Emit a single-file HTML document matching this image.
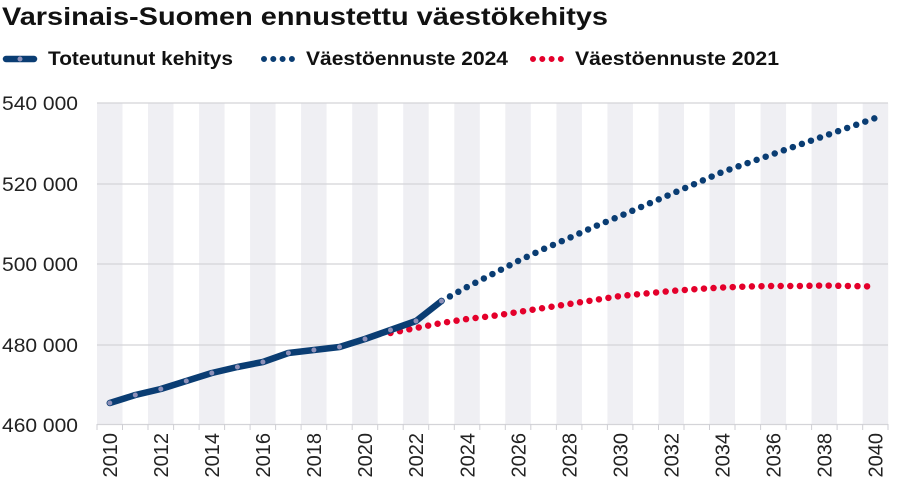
<!DOCTYPE html>
<html><head><meta charset="utf-8"><style>
body{margin:0;background:#fff;}
svg{display:block;font-family:"Liberation Sans",sans-serif;}
</style></head><body>
<svg width="900" height="487" viewBox="0 0 900 487" xmlns="http://www.w3.org/2000/svg">
<g fill="#efeff3">
<rect x="97" y="103" width="25.5" height="321"/>
<rect x="148" y="103" width="25.5" height="321"/>
<rect x="199.1" y="103" width="25.5" height="321"/>
<rect x="250.1" y="103" width="25.5" height="321"/>
<rect x="301.1" y="103" width="25.5" height="321"/>
<rect x="352.2" y="103" width="25.5" height="321"/>
<rect x="403.2" y="103" width="25.5" height="321"/>
<rect x="454.3" y="103" width="25.5" height="321"/>
<rect x="505.3" y="103" width="25.5" height="321"/>
<rect x="556.4" y="103" width="25.5" height="321"/>
<rect x="607.4" y="103" width="25.5" height="321"/>
<rect x="658.5" y="103" width="25.5" height="321"/>
<rect x="709.5" y="103" width="25.5" height="321"/>
<rect x="760.6" y="103" width="25.5" height="321"/>
<rect x="811.6" y="103" width="25.5" height="321"/>
<rect x="862.7" y="103" width="25.5" height="321"/>
</g>
<g stroke="#d4d4d8" stroke-width="1.2">
<line x1="97" y1="103" x2="888" y2="103"/>
<line x1="97" y1="184" x2="888" y2="184"/>
<line x1="97" y1="264" x2="888" y2="264"/>
<line x1="97" y1="345" x2="888" y2="345"/>
<line x1="97" y1="424.5" x2="888" y2="424.5"/>
</g>
<g stroke="#cfcfd4" stroke-width="1">
<path d="M97 424v6M122.5 424v6M148 424v6M173.6 424v6M199.1 424v6M224.6 424v6M250.1 424v6M275.6 424v6M301.1 424v6M326.7 424v6M352.2 424v6M377.7 424v6M403.2 424v6M428.7 424v6M454.3 424v6M479.8 424v6M505.3 424v6M530.8 424v6M556.4 424v6M581.9 424v6M607.4 424v6M632.9 424v6M658.5 424v6M684 424v6M709.5 424v6M735 424v6M760.6 424v6M786.1 424v6M811.6 424v6M837.1 424v6M862.7 424v6M888 424v6"/>
</g>
<g font-size="19" fill="#222">
<text x="2" y="110" textLength="76" lengthAdjust="spacingAndGlyphs">540 000</text>
<text x="2" y="191" textLength="76" lengthAdjust="spacingAndGlyphs">520 000</text>
<text x="2" y="271" textLength="76" lengthAdjust="spacingAndGlyphs">500 000</text>
<text x="2" y="352" textLength="76" lengthAdjust="spacingAndGlyphs">480 000</text>
<text x="2" y="432" textLength="76" lengthAdjust="spacingAndGlyphs">460 000</text>
</g>
<g font-size="20" fill="#222" text-anchor="end">
<text transform="translate(117,433) rotate(-90)">2010</text>
<text transform="translate(168,433) rotate(-90)">2012</text>
<text transform="translate(219,433) rotate(-90)">2014</text>
<text transform="translate(270.1,433) rotate(-90)">2016</text>
<text transform="translate(321.1,433) rotate(-90)">2018</text>
<text transform="translate(372.2,433) rotate(-90)">2020</text>
<text transform="translate(423.2,433) rotate(-90)">2022</text>
<text transform="translate(474.3,433) rotate(-90)">2024</text>
<text transform="translate(525.3,433) rotate(-90)">2026</text>
<text transform="translate(576.3,433) rotate(-90)">2028</text>
<text transform="translate(627.4,433) rotate(-90)">2030</text>
<text transform="translate(678.4,433) rotate(-90)">2032</text>
<text transform="translate(729.5,433) rotate(-90)">2034</text>
<text transform="translate(780.5,433) rotate(-90)">2036</text>
<text transform="translate(831.6,433) rotate(-90)">2038</text>
<text transform="translate(882.6,433) rotate(-90)">2040</text>
</g>
<polyline fill="none" stroke="#e4002b" stroke-width="6.5" stroke-linecap="round" stroke-dasharray="0 9.6" points="390.5,333 416,328 441.5,323 467.1,319 492.6,316 518.1,312 543.6,308 569.1,304 594.7,300 620.2,296 645.7,293.5 671.2,291 696.8,289 722.3,287.5 747.8,286.5 773.3,286 798.8,286 824.4,285.5 849.9,286 875.4,286.5"/>
<polyline fill="none" stroke="#0a3d73" stroke-width="6.5" stroke-linecap="round" stroke-dasharray="0 9.6" points="441.5,301 467.1,287 492.6,274 518.1,261 543.6,249 569.1,238 594.7,226.5 620.2,216 645.7,205 671.2,194 696.8,183 722.3,172 747.8,163 773.3,154 798.8,145 824.4,136 849.9,127 875.4,118"/>
<polyline fill="none" stroke="#0a3d73" stroke-width="6.5" stroke-linejoin="round" stroke-linecap="round" points="109.8,403 135.3,395 160.8,389 186.3,381 211.8,373 237.4,367 262.9,362 288.4,353 313.9,350 339.5,347 365,339 390.5,330 416,321 441.5,301"/>
<g fill="#8e90b8">
<circle cx="109.8" cy="403" r="2.5"/><circle cx="135.3" cy="395" r="2.5"/><circle cx="160.8" cy="389" r="2.5"/><circle cx="186.3" cy="381" r="2.5"/><circle cx="211.8" cy="373" r="2.5"/><circle cx="237.4" cy="367" r="2.5"/><circle cx="262.9" cy="362" r="2.5"/><circle cx="288.4" cy="353" r="2.5"/><circle cx="313.9" cy="350" r="2.5"/><circle cx="339.5" cy="347" r="2.5"/><circle cx="365" cy="339" r="2.5"/><circle cx="390.5" cy="330" r="2.5"/><circle cx="416" cy="321" r="2.5"/><circle cx="441.5" cy="301" r="2.5"/>
</g>
<text x="2" y="25" font-size="25" font-weight="bold" fill="#111" textLength="606" lengthAdjust="spacingAndGlyphs">Varsinais-Suomen ennustettu väestökehitys</text>
<line x1="6" y1="59" x2="34" y2="59" stroke="#0a3d73" stroke-width="6.5" stroke-linecap="round"/>
<circle cx="20" cy="59" r="2.5" fill="#8e90b8"/>
<text x="48" y="65" font-size="19" font-weight="bold" fill="#111" textLength="185" lengthAdjust="spacingAndGlyphs">Toteutunut kehitys</text>
<line x1="264" y1="59" x2="292" y2="59" stroke="#0a3d73" stroke-width="6" stroke-linecap="round" stroke-dasharray="0 9.3"/>
<text x="306" y="65" font-size="19" font-weight="bold" fill="#111" textLength="202" lengthAdjust="spacingAndGlyphs">Väestöennuste 2024</text>
<line x1="533" y1="59" x2="561" y2="59" stroke="#e4002b" stroke-width="6" stroke-linecap="round" stroke-dasharray="0 9.3"/>
<text x="575" y="65" font-size="19" font-weight="bold" fill="#111" textLength="204" lengthAdjust="spacingAndGlyphs">Väestöennuste 2021</text>
</svg>
</body></html>
